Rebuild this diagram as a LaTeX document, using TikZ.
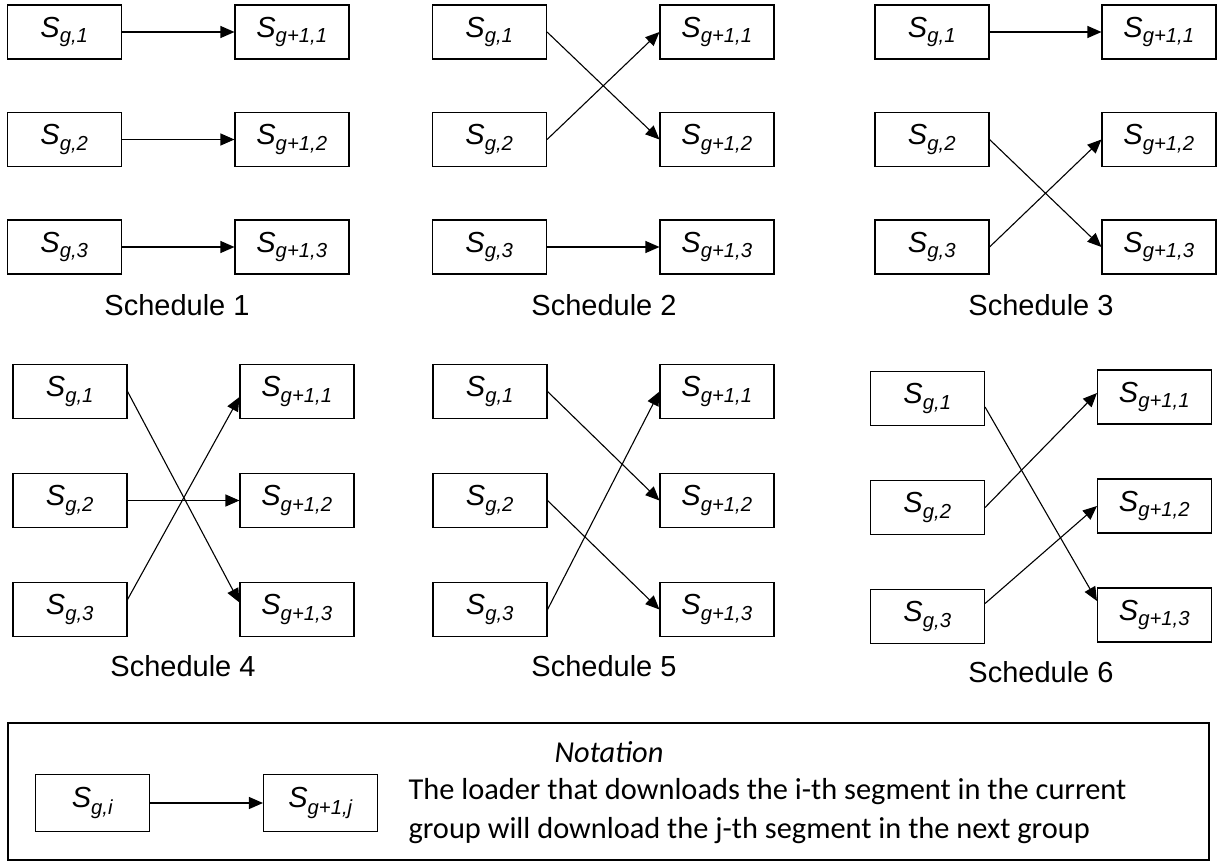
\documentclass[tikz,border=0pt]{standalone}
\usepackage{fontspec}
\setmainfont{Liberation Sans}
\newfontfamily\notefont{Carlito}
\usetikzlibrary{arrows.meta}

\newcommand{\segcur}[1]{\textit{S\textsubscript{g,#1}}}
\newcommand{\segnxt}[1]{\textit{S\textsubscript{g+1,#1}}}

\begin{document}
\begin{tikzpicture}[
            x = 1pt, y = -1pt,
            line width = 1.1pt,
            >={Triangle[length = 14pt, width = 12pt]},
            seg/.style = {
                draw, rectangle,
                minimum width = 114pt,
                minimum height = 54pt,
                inner sep = 0pt,
                font = \fontsize{29}{32}\selectfont,
            },
            sched/.style = {
                font = \fontsize{29}{34}\selectfont,
            },
            note/.style = {
                font = \notefont\fontsize{30.4}{39}\selectfont,
            },
        ]
        \useasboundingbox (0,0) rectangle (1217,861);

        % Segmente
        \foreach \s/\lx/\rx/\ly/\ry/\d in {
                1/64.5/292/32/32/107.5, 2/489.5/717/32/32/107.5, 3/932/1159/32/32/107.5,
                4/70/297/391.5/391.5/109, 5/490/717/391.5/391.5/109, 6/927.5/1154.5/398.5/397/109}
        {
            \node[seg] (cur\s_1) at (\lx, \ly) {\segcur{1}};
            \node[seg, node distance = \d pt, below of = cur\s_1] (cur\s_2) {\segcur{2}};
            \node[seg, node distance = \d pt, below of = cur\s_2] (cur\s_3) {\segcur{3}};
            \node[seg] (nxt\s_1) at (\rx, \ry) {\segnxt{1}};
            \node[seg, node distance = \d pt, below of = nxt\s_1] (nxt\s_2) {\segnxt{2}};
            \node[seg, node distance = \d pt, below of = nxt\s_2] (nxt\s_3) {\segnxt{3}};
        }

        % Bijschriften
        \node[sched] (sched1) at (177, 305) {Schedule 1};
        \node[sched] (sched2) at (604, 305) {Schedule 2};
        \node[sched] (sched3) at (1041, 305) {Schedule 3};
        \node[sched] (sched4) at (183, 666) {Schedule 4};
        \node[sched] (sched5) at (604, 666) {Schedule 5};
        \node[sched] (sched6) at (1041, 672) {Schedule 6};

        % Verbindungen
        \path
        [
            ->
        ]
            (cur1_1.east) edge (nxt1_1.west)
            (cur1_2.east) edge (nxt1_2.west)
            (cur1_3.east) edge (nxt1_3.west)
            (cur2_1.east) edge (nxt2_2.west)
            (cur2_2.east) edge (nxt2_1.west)
            (cur2_3.east) edge (nxt2_3.west)
            (cur3_1.east) edge (nxt3_1.west)
            (cur3_2.east) edge (nxt3_3.west)
            (cur3_3.east) edge (nxt3_2.west)
            (cur4_1.east) edge ([yshift = 7pt] nxt4_3.west)
            (cur4_2.east) edge (nxt4_2.west)
            ([yshift = 10pt] cur4_3.east) edge ([yshift = -5.5pt] nxt4_1.west)
            (cur5_1.east) edge (nxt5_2.west)
            (cur5_2.east) edge (nxt5_3.west)
            (cur5_3.east) edge (nxt5_1.west)
            ([yshift = -8.5pt] cur6_1.east) edge ([yshift = 14pt] nxt6_3.west)
            (cur6_2.east) edge ([yshift = 4pt] nxt6_1.west)
            ([yshift = 13pt] cur6_3.east) edge (nxt6_2.west);

        % Notatie
        \node[draw, inner sep = 0pt, minimum width = 1201pt, minimum height = 137pt] (legend) at (608.5, 791.5) {};
        \node[seg, minimum height = 57pt] (curi) at (92.5, 803) {\textit{S\textsubscript{g,i}}};
        \node[seg, minimum height = 57pt] (nxtj) at (320.5, 803) {\segnxt{j}};
        \draw[->] (curi.east) -- (nxtj.west);
        \node[note] (nottitle) at (609, 752) {\itshape Notation};
        \node[note, anchor = west, align = left, inner sep = 0pt] (notetext) at (408, 811)
            {The loader that downloads the i-th segment in the current\\group will download the j-th segment in the next group};

    \end{tikzpicture}
\end{document}
